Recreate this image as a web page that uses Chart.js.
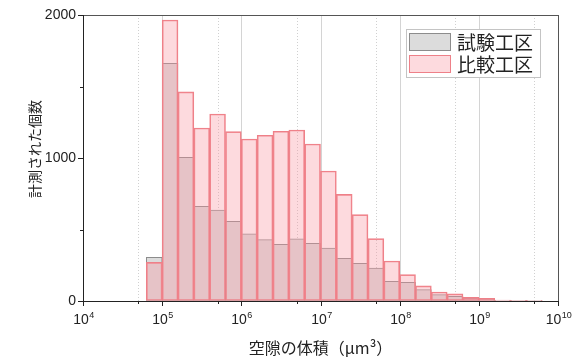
<!DOCTYPE html>
<html>
<head>
<meta charset="utf-8">
<script src="https://cdn.jsdelivr.net/npm/chart.js@4.4.1/dist/chart.umd.min.js"></script>
<style>
  html, body { margin: 0; padding: 0; background: #fff; }
</style>
</head>
<body>
<canvas id="histChart" width="581" height="358"></canvas>
<script>
// log10 of the lower edge of each bin (bins are 0.2 decades wide)
const binStarts = [4.8, 5.0, 5.2, 5.4, 5.6, 5.8, 6.0, 6.2, 6.4, 6.6, 6.8, 7.0, 7.2,
                   7.4, 7.6, 7.8, 8.0, 8.2, 8.4, 8.6, 8.8, 9.0, 9.2, 9.4, 9.6];
const binWidth = 0.2;
const testCounts = [305, 1662, 1005, 662, 636, 557, 469, 429, 396, 434, 403, 370, 298,
                    263, 231, 138, 130, 80, 45, 32, 18, 11, 5, 2, 1];
const compCounts = [270, 1965, 1462, 1210, 1308, 1184, 1133, 1159, 1187, 1196, 1098, 909, 746,
                    604, 436, 280, 185, 106, 63, 50, 25, 19, 7, 3, 1];
const xTickExps = [4, 5, 6, 7, 8, 9, 10];
const yMinorTicks = [500, 1500];
const seriesNames = ['試験工区', '比較工区'];
const yTitle = '計測された個数';

const grayFill = '#dcdcdc', grayLine = '#8c8c8c';
const pinkFill = 'rgba(250,150,160,0.35)', pinkLine = '#ee8088';
const numFont = '"Liberation Sans", Arial, sans-serif';
const jpFont = '"Noto Sans CJK JP", "Noto Sans", sans-serif';

function toPoints(counts) {
  return counts.map((v, i) => ({ x: binStarts[i] + binWidth / 2, y: v }));
}

const axisDecor = {
  id: 'axisDecor',
  beforeDatasetsDraw(chart) {
    const { ctx, chartArea: a, scales: { x } } = chart;
    ctx.save();
    ctx.lineWidth = 1;
    xTickExps.forEach(e => {
      if (e > x.min && e < x.max) {
        const px = Math.round(x.getPixelForValue(e)) + 0.5;
        ctx.strokeStyle = '#d4d4d4';
        ctx.setLineDash([]);
        ctx.beginPath(); ctx.moveTo(px, a.top); ctx.lineTo(px, a.bottom); ctx.stroke();
      }
      const m = e + Math.log10(5);
      if (m < x.max) {
        const pm = Math.round(x.getPixelForValue(m)) + 0.5;
        ctx.strokeStyle = '#d0d0d0';
        ctx.setLineDash([1, 2]);
        ctx.beginPath(); ctx.moveTo(pm, a.top); ctx.lineTo(pm, a.bottom); ctx.stroke();
      }
    });
    ctx.restore();
  },
  afterDatasetsDraw(chart) {
    const { ctx, chartArea: a, scales: { x, y } } = chart;
    ctx.save();
    ctx.setLineDash([]);
    ctx.lineWidth = 1;
    // frame
    ctx.strokeStyle = '#555';
    ctx.strokeRect(Math.round(a.left) + 0.5, Math.round(a.top) + 0.5,
                   Math.round(a.right - a.left), Math.round(a.bottom - a.top));
    ctx.strokeStyle = '#222';
    ctx.beginPath();
    ctx.moveTo(Math.round(a.left) + 0.5, a.top); ctx.lineTo(Math.round(a.left) + 0.5, a.bottom + 0.5);
    ctx.lineTo(a.right, Math.round(a.bottom) + 0.5);
    ctx.stroke();
    // x ticks and labels
    ctx.fillStyle = '#222';
    xTickExps.forEach(e => {
      const px = Math.round(x.getPixelForValue(e)) + 0.5;
      ctx.beginPath(); ctx.moveTo(px, a.bottom); ctx.lineTo(px, a.bottom + 5); ctx.stroke();
      const m = e + Math.log10(5);
      if (m < x.max) {
        const pm = Math.round(x.getPixelForValue(m)) + 0.5;
        ctx.beginPath(); ctx.moveTo(pm, a.bottom); ctx.lineTo(pm, a.bottom + 3); ctx.stroke();
      }
      ctx.font = '14px ' + numFont;
      const wBase = ctx.measureText('10').width;
      ctx.font = '9px ' + numFont;
      const sup = String(e);
      const wSup = ctx.measureText(sup).width;
      const x0 = px - (wBase + wSup) / 2;
      ctx.textAlign = 'left';
      ctx.textBaseline = 'alphabetic';
      ctx.font = '14px ' + numFont;
      ctx.fillText('10', x0, a.bottom + 23);
      ctx.font = '9px ' + numFont;
      ctx.fillText(sup, x0 + wBase + 0.5, a.bottom + 17);
    });
    // y minor ticks
    yMinorTicks.forEach(v => {
      const py = Math.round(y.getPixelForValue(v)) + 0.5;
      ctx.beginPath(); ctx.moveTo(a.left - 3, py); ctx.lineTo(a.left, py); ctx.stroke();
    });
    // y title
    ctx.save();
    ctx.translate(35, 149);
    ctx.rotate(-Math.PI / 2);
    ctx.fillStyle = '#222';
    ctx.font = '14px ' + jpFont;
    ctx.textAlign = 'center';
    ctx.textBaseline = 'middle';
    ctx.fillText(yTitle, 0, 0);
    ctx.restore();
    // legend
    const lx = 406, ly = 29;
    ctx.fillStyle = '#fff';
    ctx.fillRect(lx, ly, 134, 48);
    ctx.strokeStyle = '#c4c4c4';
    ctx.strokeRect(lx + 0.5, ly + 0.5, 134, 48);
    const swatches = [[grayFill, grayLine], [pinkFill, pinkLine]];
    seriesNames.forEach((name, i) => {
      const sy = ly + 4 + i * 22;
      ctx.fillStyle = '#fff';
      ctx.fillRect(lx + 3, sy, 42, 18);
      ctx.fillStyle = swatches[i][0];
      ctx.fillRect(lx + 3, sy, 42, 18);
      ctx.strokeStyle = swatches[i][1];
      ctx.strokeRect(lx + 3.5, sy + 0.5, 41, 17);
      ctx.fillStyle = '#222';
      ctx.font = '19px ' + jpFont;
      ctx.textAlign = 'left';
      ctx.textBaseline = 'middle';
      ctx.fillText(name, lx + 51, sy + 10);
    });
    ctx.restore();
  }
};

new Chart(document.getElementById('histChart'), {
  type: 'bar',
  data: {
    datasets: [
      {
        label: seriesNames[0],
        data: toPoints(testCounts),
        backgroundColor: grayFill,
        borderColor: grayLine,
        borderWidth: 1,
        borderSkipped: false,
        order: 1
      },
      {
        label: seriesNames[1],
        data: toPoints(compCounts),
        backgroundColor: pinkFill,
        borderColor: pinkLine,
        borderWidth: 1,
        borderSkipped: false,
        order: 0
      }
    ]
  },
  options: {
    responsive: false,
    animation: false,
    grouped: false,
    barPercentage: 1,
    categoryPercentage: 1,
    layout: { padding: { top: 15, right: 23, left: 0, bottom: 0 } },
    scales: {
      x: {
        type: 'linear',
        min: 4,
        max: 10,
        offset: false,
        grid: { display: false },
        border: { display: false },
        ticks: { display: false, stepSize: 1 },
        title: {
          display: true,
          text: '空隙の体積（μm³）',
          color: '#222',
          font: { family: jpFont, size: 16 },
          padding: { top: 0, bottom: 0 }
        },
        afterFit(scale) { scale.height = 57; }
      },
      y: {
        min: 0,
        max: 2000,
        grid: { display: true, drawOnChartArea: false, drawTicks: true, tickLength: 5, color: '#222' },
        border: { display: false },
        ticks: {
          stepSize: 1000,
          padding: 2,
          color: '#222',
          font: { family: numFont, size: 14 },
          callback: v => String(v)
        },
        title: { display: false },
        afterFit(scale) { scale.width = 83; }
      }
    },
    plugins: {
      legend: { display: false },
      tooltip: { enabled: false }
    }
  },
  plugins: [axisDecor]
});
</script>
</body>
</html>
